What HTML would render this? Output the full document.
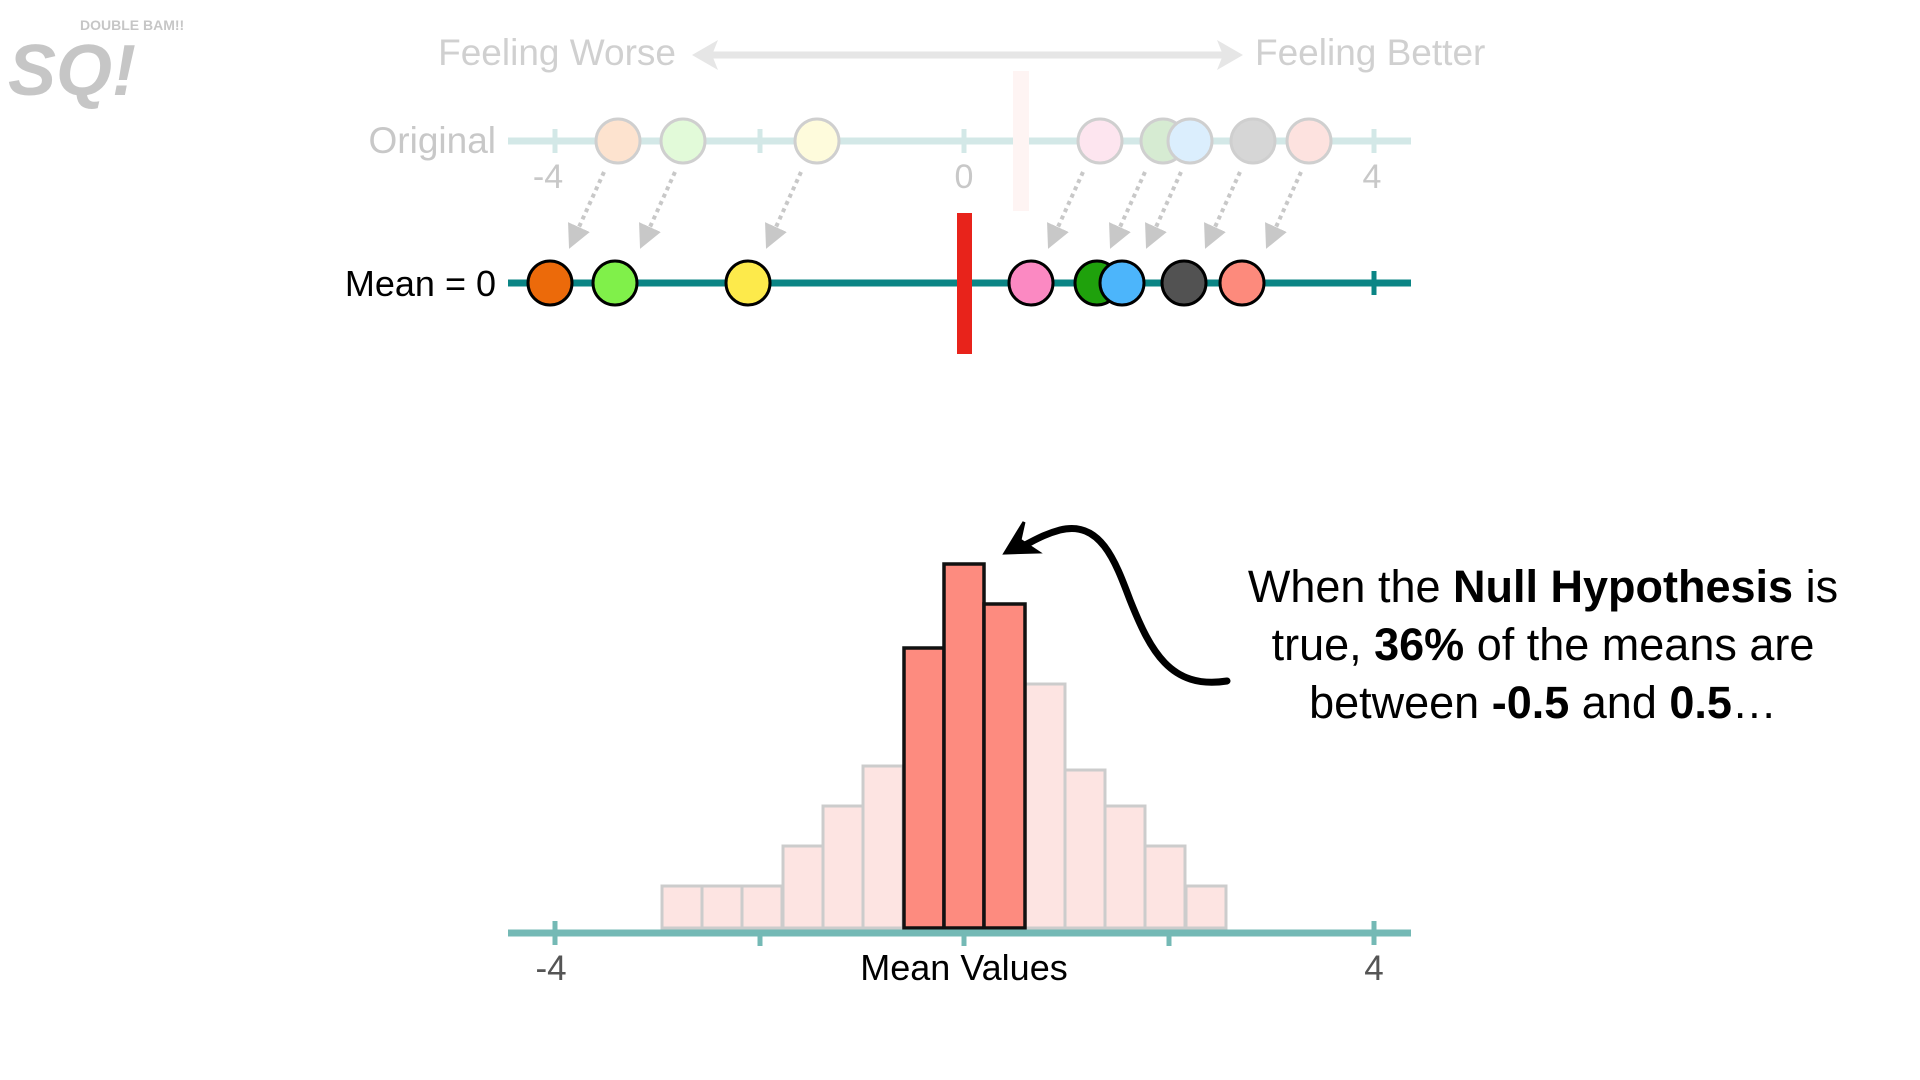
<!DOCTYPE html>
<html><head><meta charset="utf-8"><style>
html,body{margin:0;padding:0;background:#fff;}
svg{display:block;font-family:"Liberation Sans",sans-serif;}
</style></head><body>
<svg width="1920" height="1080" viewBox="0 0 1920 1080" xmlns="http://www.w3.org/2000/svg">
<defs>
<marker id="ga" markerWidth="6" markerHeight="6" refX="3" refY="3" orient="auto" markerUnits="strokeWidth"><path d="M0,0 L6,3 L0,6 Z" fill="#c8c8c8"/></marker>
</defs>
<g opacity="0.55">
<text x="8" y="95" font-size="72" font-weight="bold" fill="#999" font-style="italic">SQ!</text>
<text x="80" y="30" font-size="14" font-weight="bold" fill="#999">DOUBLE BAM!!</text>
</g>
<text x="676" y="65" font-size="37" fill="#d0d0d0" text-anchor="end">Feeling Worse</text>
<text x="1255" y="65" font-size="37" fill="#d0d0d0">Feeling Better</text>
<line x1="705" y1="55" x2="1230" y2="55" stroke="#e6e6e6" stroke-width="7"/>
<path d="M692,55 L718,40 L712,55 L718,70 Z" fill="#e6e6e6"/>
<path d="M1243,55 L1217,40 L1223,55 L1217,70 Z" fill="#e6e6e6"/>
<text x="496" y="153" font-size="37" fill="#c8c8c8" text-anchor="end">Original</text>
<line x1="508" y1="141" x2="1411" y2="141" stroke="#d3e8e7" stroke-width="7"/>
<g stroke="#d3e8e7" stroke-width="5"><line x1="555" y1="129" x2="555" y2="153"/><line x1="760" y1="129" x2="760" y2="153"/><line x1="964" y1="129" x2="964" y2="153"/><line x1="1374" y1="129" x2="1374" y2="153"/></g>
<g font-size="34" fill="#c8c8c8" text-anchor="middle"><text x="548" y="188">-4</text><text x="964" y="188">0</text><text x="1372" y="188">4</text></g>
<rect x="1013" y="71" width="16" height="140" fill="#fef4f3"/>
<g stroke="#cfcfcf" stroke-width="3">
<circle cx="618" cy="141" r="22" fill="#fde3cf"/>
<circle cx="683" cy="141" r="22" fill="#e2fad9"/>
<circle cx="817" cy="141" r="22" fill="#fefbdc"/>
<circle cx="1100" cy="141" r="22" fill="#fde5ef"/>
<circle cx="1163" cy="141" r="22" fill="#d6ebd2"/>
<circle cx="1190" cy="141" r="22" fill="#dbeefd"/>
<circle cx="1253" cy="141" r="22" fill="#d6d6d6"/>
<circle cx="1309" cy="141" r="22" fill="#fde2df"/>
</g>
<g stroke="#c8c8c8" stroke-width="4" stroke-dasharray="4,4" marker-end="url(#ga)">
<line x1="604" y1="172" x2="574" y2="238"/>
<line x1="675" y1="172" x2="645" y2="238"/>
<line x1="801" y1="172" x2="771" y2="238"/>
<line x1="1083" y1="172" x2="1053" y2="238"/>
<line x1="1145" y1="172" x2="1115" y2="238"/>
<line x1="1181" y1="172" x2="1151" y2="238"/>
<line x1="1240" y1="172" x2="1210" y2="238"/>
<line x1="1301" y1="172" x2="1271" y2="238"/>
</g>
<text x="496" y="296" font-size="36" fill="#000" text-anchor="end">Mean = 0</text>
<line x1="508" y1="283" x2="1411" y2="283" stroke="#0b8585" stroke-width="7"/>
<line x1="1374" y1="271" x2="1374" y2="295" stroke="#0b8585" stroke-width="5"/>
<rect x="957" y="213" width="15" height="141" fill="#e8231b"/>
<g stroke="#000" stroke-width="3">
<circle cx="550" cy="283" r="22" fill="#ec6a0a"/>
<circle cx="615" cy="283" r="22" fill="#80f04a"/>
<circle cx="748" cy="283" r="22" fill="#fdea4b"/>
<circle cx="1031" cy="283" r="22" fill="#fb89c2"/>
<circle cx="1097" cy="283" r="22" fill="#1fa10c"/>
<circle cx="1122" cy="283" r="22" fill="#4cb5fb"/>
<circle cx="1184" cy="283" r="22" fill="#525252"/>
<circle cx="1242" cy="283" r="22" fill="#fd8a7c"/>
</g>
<g fill="#fde4e2" stroke="#cccccc" stroke-width="3">
<rect x="662" y="886" width="40" height="42"/>
<rect x="702" y="886" width="40" height="42"/>
<rect x="742" y="886" width="40" height="42"/>
<rect x="783" y="846" width="40" height="82"/>
<rect x="823" y="806" width="40" height="122"/>
<rect x="863" y="766" width="40" height="162"/>
<rect x="1025" y="684" width="40" height="244"/>
<rect x="1065" y="770" width="40" height="158"/>
<rect x="1105" y="806" width="40" height="122"/>
<rect x="1145" y="846" width="40" height="82"/>
<rect x="1186" y="886" width="40" height="42"/>
</g>
<g fill="#fd8b7f" stroke="#111" stroke-width="3.5">
<rect x="904" y="648" width="40" height="280"/>
<rect x="944" y="564" width="40" height="364"/>
<rect x="984" y="604" width="41" height="324"/>
</g>
<line x1="508" y1="933" x2="1411" y2="933" stroke="#74b9b5" stroke-width="7"/>
<g stroke="#74b9b5" stroke-width="5">
<line x1="555" y1="921" x2="555" y2="945"/><line x1="1374" y1="921" x2="1374" y2="945"/>
<line x1="760" y1="933" x2="760" y2="946"/><line x1="964" y1="933" x2="964" y2="946"/><line x1="1169" y1="933" x2="1169" y2="946"/>
</g>
<text x="551" y="980" font-size="35" fill="#555" text-anchor="middle">-4</text>
<text x="1374" y="980" font-size="35" fill="#555" text-anchor="middle">4</text>
<text x="964" y="980" font-size="36" fill="#000" text-anchor="middle">Mean Values</text>
<path d="M1227,681 C1170,690 1150,650 1130,600 C1115,560 1100,520 1060,530 C1045,534 1035,540 1025,545" fill="none" stroke="#000" stroke-width="7" stroke-linecap="round"/>
<path d="M1005,553 L1024,522 L1020,540 L1038,552 Z" fill="#000" stroke="#000" stroke-width="3"/>
<g font-size="45" fill="#000" text-anchor="middle">
<text x="1543" y="602">When the <tspan font-weight="bold">Null Hypothesis</tspan> is</text>
<text x="1543" y="660">true, <tspan font-weight="bold">36%</tspan> of the means are</text>
<text x="1543" y="718">between <tspan font-weight="bold">-0.5</tspan> and <tspan font-weight="bold">0.5</tspan>…</text>
</g>
</svg>
</body></html>
